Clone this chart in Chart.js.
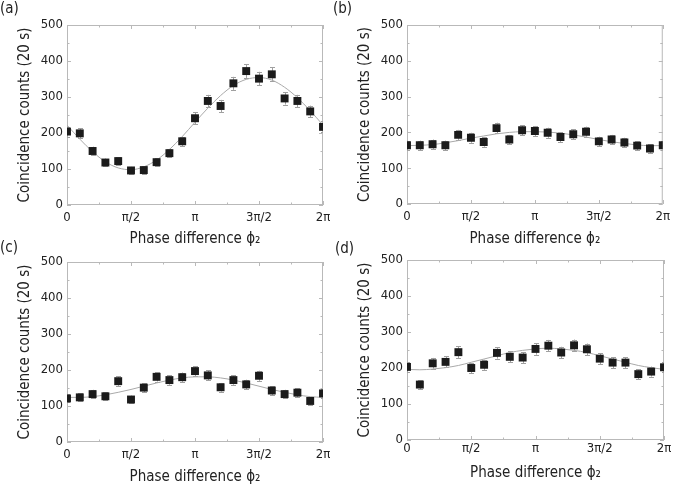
<!DOCTYPE html>
<html>
<head>
<meta charset="utf-8">
<script src="https://cdn.jsdelivr.net/npm/chart.js@4.4.1/dist/chart.umd.min.js"></script>
<style>
    body { margin: 0; background: #fff; }
    #wrap { position: relative; width: 675px; height: 489px; overflow: hidden; }
    .panel { position: absolute; }
    .tag { position: absolute; font: 15px "DejaVu Sans Condensed", "DejaVu Sans", sans-serif; color: #222; line-height: 18px; }
</style>
</head>
<body>
<div id="wrap">
    <div class="panel" style="left:0;top:0"><canvas id="chartA" width="337" height="250"></canvas></div>
    <div class="panel" style="left:340px;top:0"><canvas id="chartB" width="335" height="250"></canvas></div>
    <div class="panel" style="left:0;top:245px"><canvas id="chartC" width="337" height="244"></canvas></div>
    <div class="panel" style="left:340px;top:245px"><canvas id="chartD" width="335" height="244"></canvas></div>
    <div class="tag" style="left:0;top:-1px">(a)</div>
    <div class="tag" style="left:333px;top:-1px">(b)</div>
    <div class="tag" style="left:0;top:238px">(c)</div>
    <div class="tag" style="left:335px;top:239px">(d)</div>
</div>
<script>
// phase in units of pi
const xPhase = [0, 0.1, 0.2, 0.3, 0.4, 0.5, 0.6, 0.7, 0.8, 0.9, 1.0,
                1.1, 1.2, 1.3, 1.4, 1.5, 1.6, 1.7, 1.8, 1.9, 2.0];
const xTickLabels = ['0', 'π/2', 'π', '3π/2', '2π'];

// (a)
const countsA = [204, 199, 150, 118, 122, 96, 97, 119, 144, 177, 241, 289, 275, 338, 372, 351, 363, 296, 289, 260, 217];
const errA    = [14, 14, 12, 11, 11, 10, 10, 11, 12, 13, 16, 17, 17, 18, 19, 19, 19, 17, 17, 16, 15];
const fitA    = [222, 183, 148, 120, 103, 98, 106, 125, 154, 190, 230, 269, 304, 332, 349, 354, 347, 327, 298, 262, 222];

// (b)
const countsB = [164, 164, 167, 164, 193, 185, 173, 212, 180, 206, 204, 199, 187, 195, 202, 175, 180, 172, 163, 155, 164];
const errB    = [13, 13, 13, 13, 14, 14, 13, 15, 13, 14, 14, 14, 14, 14, 14, 13, 13, 13, 13, 12, 13];
const fitB    = [163, 164, 166, 171, 177, 184, 190, 196, 200, 202, 202, 201, 198, 193, 187, 180, 174, 169, 165, 163, 163];

// (c)
const countsC = [121, 124, 133, 127, 169, 118, 151, 181, 172, 180, 197, 185, 152, 172, 160, 184, 143, 133, 137, 114, 135];
const errC    = [11, 11, 12, 11, 13, 11, 12, 13, 13, 13, 14, 14, 12, 13, 13, 14, 12, 12, 12, 11, 12];
const fitC    = [124, 124, 126, 131, 138, 146, 155, 164, 172, 178, 181, 181, 178, 172, 164, 155, 146, 138, 131, 126, 124];

// (d)
const countsD = [203, 154, 213, 217, 244, 200, 209, 242, 231, 229, 253, 262, 243, 263, 252, 226, 215, 215, 183, 190, 202];
const errD    = [14, 12, 15, 15, 16, 14, 14, 16, 15, 15, 16, 16, 16, 16, 16, 15, 15, 15, 14, 14, 14];
const fitD    = [196, 195, 197, 201, 207, 216, 225, 234, 243, 249, 253, 255, 253, 249, 243, 234, 225, 216, 207, 201, 196];

const fontName = '"DejaVu Sans Condensed", "DejaVu Sans", sans-serif';
const frameColor = '#b9b9b9';

// box around the plot with small inward ticks on all four sides
const frameTicks = {
    id: 'frameTicks',
    beforeDatasetsDraw(chart) {
        const { ctx, chartArea: a, scales } = chart;
        ctx.save();
        ctx.strokeStyle = frameColor;
        ctx.lineWidth = 1;
        ctx.strokeRect(a.left + 0.5, a.top + 0.5, a.right - a.left - 1, a.bottom - a.top - 1);
        ctx.beginPath();
        [scales.x, scales.y].forEach(function (s) {
            const vals = s.ticks.map(t => t.value);
            const marks = [];
            vals.forEach(function (v, i) {
                marks.push([v, 4]);
                if (i < vals.length - 1) marks.push([(v + vals[i + 1]) / 2, 2.5]);
            });
            marks.forEach(function (m) {
                const p = Math.round(s.getPixelForValue(m[0])) + 0.5;
                if (s.isHorizontal()) {
                    ctx.moveTo(p, a.bottom); ctx.lineTo(p, a.bottom - m[1]);
                    ctx.moveTo(p, a.top); ctx.lineTo(p, a.top + m[1]);
                } else {
                    ctx.moveTo(a.left, p); ctx.lineTo(a.left + m[1], p);
                    ctx.moveTo(a.right, p); ctx.lineTo(a.right - m[1], p);
                }
            });
        });
        ctx.stroke();
        ctx.restore();
    }
};

// vertical error bars with caps, drawn under the markers
const errorBars = {
    id: 'errorBars',
    beforeDatasetsDraw(chart) {
        const { ctx, chartArea: a, scales: { x, y } } = chart;
        const ds = chart.data.datasets[0];
        ctx.save();
        ctx.beginPath();
        ctx.rect(a.left, a.top, a.right - a.left, a.bottom - a.top);
        ctx.clip();
        ctx.strokeStyle = '#a0a0a0';
        ctx.lineWidth = 1;
        ctx.beginPath();
        ds.data.forEach(function (pt, i) {
            const e = ds.errors[i];
            const px = Math.round(x.getPixelForValue(pt.x)) + 0.5;
            const y1 = y.getPixelForValue(pt.y - e);
            const y2 = y.getPixelForValue(pt.y + e);
            ctx.moveTo(px, y1); ctx.lineTo(px, y2);
            ctx.moveTo(px - 2.5, Math.round(y1) + 0.5); ctx.lineTo(px + 2.5, Math.round(y1) + 0.5);
            ctx.moveTo(px - 2.5, Math.round(y2) + 0.5); ctx.lineTo(px + 2.5, Math.round(y2) + 0.5);
        });
        ctx.stroke();
        ctx.restore();
    }
};

function MakePanel(id, counts, errs, fit, pad, xTickPad, xTitlePad) {
    return new Chart(document.getElementById(id), {
        type: 'scatter',
        data: {
            datasets: [
                {
                    data: xPhase.map((p, i) => ({ x: p, y: counts[i] })),
                    errors: errs,
                    showLine: false,
                    pointStyle: 'rect',
                    pointRadius: 5.6,
                    backgroundColor: '#1b1b1b',
                    borderColor: '#1b1b1b',
                    borderWidth: 0
                },
                {
                    data: xPhase.map((p, i) => ({ x: p, y: fit[i] })),
                    showLine: true,
                    pointRadius: 0,
                    borderColor: '#a9a9a9',
                    borderWidth: 1,
                    cubicInterpolationMode: 'monotone'
                }
            ]
        },
        options: {
            responsive: false,
            animation: false,
            events: [],
            layout: { padding: pad },
            plugins: {
                legend: { display: false },
                tooltip: { enabled: false }
            },
            scales: {
                x: {
                    type: 'linear',
                    min: 0,
                    max: 2,
                    grid: { display: false, drawTicks: false },
                    border: { display: false },
                    ticks: {
                        stepSize: 0.5,
                        autoSkip: false,
                        maxRotation: 0,
                        padding: xTickPad,
                        color: '#222',
                        font: { family: fontName, size: 13 },
                        callback: (v, i) => xTickLabels[i]
                    },
                    title: {
                        display: true,
                        text: 'Phase difference ϕ₂',
                        color: '#222',
                        font: { family: fontName, size: 15 },
                        padding: { top: 0, bottom: xTitlePad }
                    },
                    afterFit: function (s) { s.height = pad.xh; }
                },
                y: {
                    min: 0,
                    max: 500,
                    grid: { display: false, drawTicks: false },
                    border: { display: false },
                    ticks: {
                        stepSize: 100,
                        padding: 4,
                        color: '#222',
                        font: { family: fontName, size: 13 }
                    },
                    title: {
                        display: true,
                        text: 'Coincidence counts (20 s)',
                        color: '#222',
                        font: { family: fontName, size: 15 },
                        padding: { top: 16, bottom: 0 }
                    },
                    afterFit: function (s) { s.width = 67; }
                }
            }
        },
        plugins: [frameTicks, errorBars]
    });
}

MakePanel('chartA', countsA, errA, fitA, { top: 25, right: 14, bottom: 0, left: 0, xh: 45 }, 5, 2);
MakePanel('chartB', countsB, errB, fitB, { top: 25, right: 11, bottom: 0, left: 0, xh: 46 }, 5, 2);
MakePanel('chartC', countsC, errC, fitC, { top: 17, right: 14, bottom: 0, left: 0, xh: 47 }, 5, 3);
MakePanel('chartD', countsD, errD, fitD, { top: 15, right: 11, bottom: 0, left: 0, xh: 49 }, 1, 7);
</script>
</body>
</html>
